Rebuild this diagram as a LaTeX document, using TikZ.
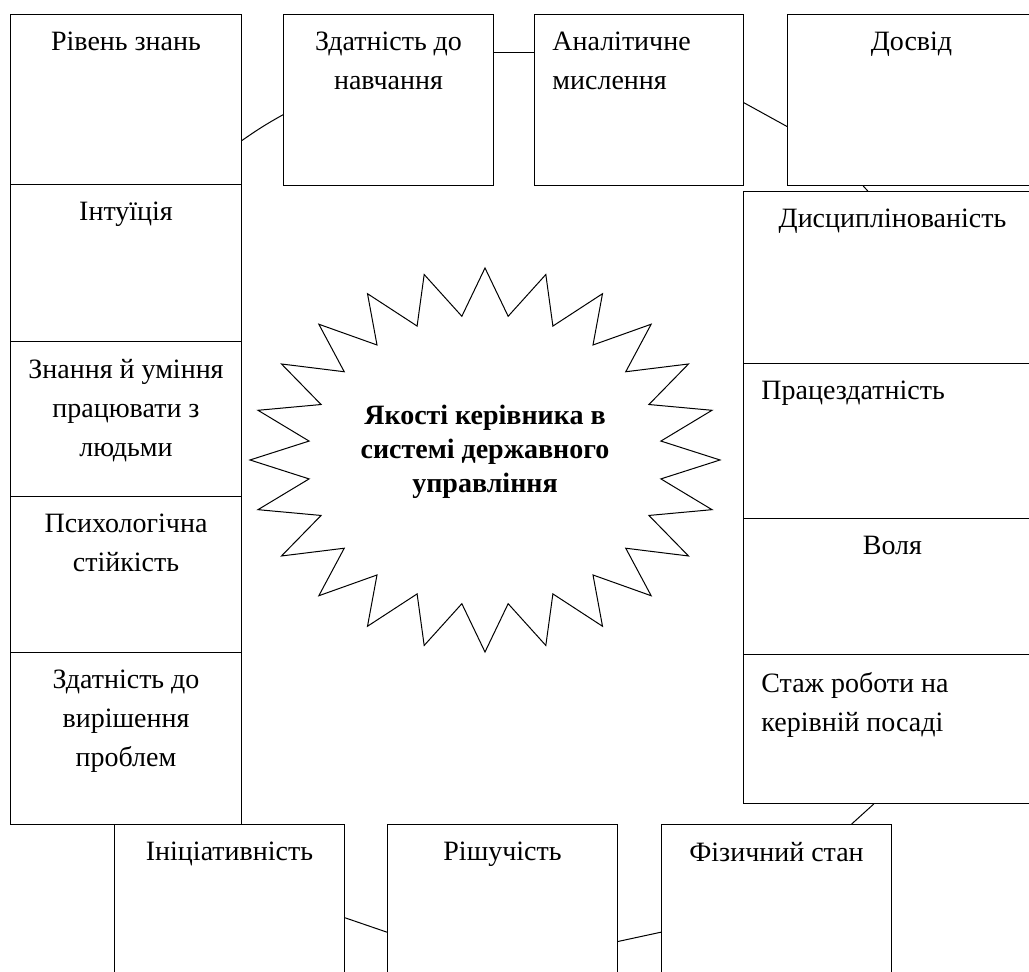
\documentclass[tikz,border=0pt]{standalone}
\usepackage{fontspec}
\setmainfont{Liberation Serif}
\usetikzlibrary{positioning}
\newcommand{\boxfont}{\fontsize{14}{19.5}\selectfont}
\newcommand{\corefont}{\bfseries\fontsize{14}{17}\selectfont}
\tikzset{
    box/.style={draw, line width=0.5pt, inner sep=0pt, anchor=north west},
    box text/.style={inner sep=0pt, align=center, font=\boxfont},
    left text/.style={box text, align=left},
    link/.style={line width=0.5pt},
    star line/.style={line width=0.5pt},
    core text/.style={inner sep=0pt, align=center, font=\corefont}
}

\begin{document}
\begin{tikzpicture}[x=0.5pt, y=0.5pt]
    \useasboundingbox (0,0) rectangle (1029,972);
    \clip (0,0) rectangle (1029,972);

    % Left column - boxes stacked on each other
    \foreach \n/\t/\h/\txt in {rz/958/170/{Рівень знань}, it/788/157/{Інтуїція}, zn/631/155/{Знання й уміння\\працювати з\\людьми}, ps/476/156/{Психологічна\\стійкість}, zv/320/172/{Здатність до\\вирішення\\проблем}} {
        \node[box, minimum width=115.5pt, minimum height=\h*0.5pt] (\n) at (10,\t) {};
        \node[box text, below=9pt of \n.north] (\n-t) {\txt};
    }

    % Top row
    \node[box, minimum width=105pt, minimum height=85.5pt] (zdn) at (283,958) {};
    \node[box, minimum width=104.5pt, minimum height=85.5pt] (am) at (534,958) {};
    \node[box, minimum width=124pt, minimum height=85.5pt] (ds) at (787,958) {};
    \node[box text, below=9pt of zdn.north] (zdn-t) {Здатність до\\навчання};
    \node[left text, below right=9pt and 9pt of am.north west] (am-t) {Аналітичне\\мислення};
    \node[box text, below=9pt of ds.north] (ds-t) {Досвід};

    % Right column - runs off the page
    \foreach \n/\t/\h in {dc/781/172, pz/609/155, vl/454/136, st/318/149} {
        \node[box, minimum width=149pt, minimum height=\h*0.5pt] (\n) at (743,\t) {};
    }
    \node[box text, below=9pt of dc.north] (dc-t) {Дисциплінованість};
    \node[left text, below right=9pt and 9pt of pz.north west] (pz-t) {Працездатність};
    \node[box text, below=9pt of vl.north] (vl-t) {Воля};
    \node[left text, below right=9pt and 9pt of st.north west] (st-t) {Стаж роботи на\\керівній посаді};

    % Bottom row - cut by the lower edge
    \foreach \n/\x/\txt in {ii/114/{Ініціативність}, ri/387/{Рішучість}, fs/661/{Фізичний стан}} {
        \node[box, minimum width=115pt, minimum height=85pt] (\n) at (\x,148) {};
        \node[box text, below=9pt of \n.north] (\n-t) {\txt};
    }

    % Connectors between neighbouring boxes
    \draw[link] ([yshift=-20.5pt]rz.east) to[out=35, in=209] ([yshift=-7.4pt]zdn.west);
    \draw[link] ([yshift=23.9pt]zdn.east) -- ([yshift=23.9pt]am.west);
    \draw[link] ([yshift=-1.4pt]am.east) -- ([yshift=-13.25pt]ds.west);
    \draw[link] ([xshift=-24.15pt]ds.south) -- ([xshift=-12.35pt]dc.north);
    \draw[link] ([xshift=-9.35pt]st.south) -- ([xshift=37.6pt]fs.north);
    \draw[link] ([yshift=-16pt]ri.east) -- ([yshift=-11.35pt]fs.west);
    \draw[link] ([yshift=-4.15pt]ii.east) -- ([yshift=-11.35pt]ri.west);

    % Star in the middle
    \coordinate (core) at (485,512);
    \draw[star line, shift={(core)}] plot[samples at={0,...,47}]
        ({235*(1-0.245*mod(\x,2))*cos(90+7.5*\x)}, {192*(1-0.245*mod(\x,2))*sin(90+7.5*\x)}) -- cycle;
    \node[core text] (core-t) at (485,520) {Якості керівника в\\системі державного\\управління};
\end{tikzpicture}
\end{document}
